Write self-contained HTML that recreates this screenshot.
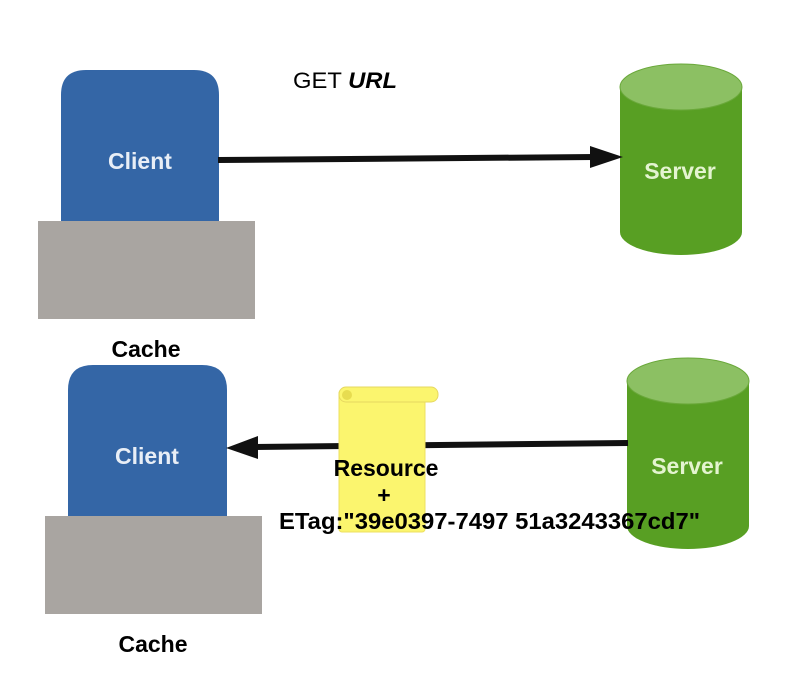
<!DOCTYPE html>
<html><head><style>body{margin:0;background:#fff}</style></head><body>
<svg width="794" height="668" xmlns="http://www.w3.org/2000/svg" font-family="Liberation Sans, sans-serif" font-weight="bold">
<rect width="794" height="668" fill="#fff"/>
<!-- top client -->
<path d="M61,95 Q61,70 86,70 L194,70 Q219,70 219,95 L219,222 L61,222 Z" fill="#3466a6"/>
<rect x="38" y="221" width="217" height="98" fill="#a9a5a1"/>
<text x="140" y="169" font-size="23" fill="#e8eef6" text-anchor="middle">Client</text>
<text x="146" y="357" font-size="23" fill="#000" text-anchor="middle">Cache</text>
<!-- bottom client -->
<path d="M68,390 Q68,365 93,365 L202,365 Q227,365 227,390 L227,517 L68,517 Z" fill="#3466a6"/>
<rect x="45" y="516" width="217" height="98" fill="#a9a5a1"/>
<text x="147" y="464" font-size="23" fill="#e8eef6" text-anchor="middle">Client</text>
<text x="153" y="652" font-size="23" fill="#000" text-anchor="middle">Cache</text>
<!-- servers -->
<g>
<path d="M620,87 L620,232 A61,23 0 0 0 742,232 L742,87 Z" fill="#589f23"/>
<ellipse cx="681" cy="87" rx="61" ry="23" fill="#8cc063" stroke="#6aa83a"/>
<text x="680" y="179" font-size="23" fill="#e4f4d0" text-anchor="middle">Server</text>
</g>
<g>
<path d="M627,381 L627,526 A61,23 0 0 0 749,526 L749,381 Z" fill="#589f23"/>
<ellipse cx="688" cy="381" rx="61" ry="23" fill="#8cc063" stroke="#6aa83a"/>
<text x="687" y="474" font-size="23" fill="#e4f4d0" text-anchor="middle">Server</text>
</g>
<!-- arrow 1 -->
<line x1="218" y1="160" x2="595" y2="157" stroke="#111" stroke-width="6"/>
<polygon points="590,146 623,157 590,168" fill="#111"/>
<text x="293" y="88" font-size="22" font-weight="normal" fill="#000" textLength="104" lengthAdjust="spacingAndGlyphs">GET <tspan font-weight="bold" font-style="italic">URL</tspan></text>
<!-- arrow 2 -->
<line x1="628" y1="443" x2="250" y2="447" stroke="#111" stroke-width="6"/>
<polygon points="258,436 226,448 258,459" fill="#111"/>
<!-- scroll -->
<rect x="339" y="390" width="86" height="142" rx="3" fill="#fbf56e" stroke="#ede060"/>
<rect x="339" y="387" width="99" height="15" rx="7" fill="#fbf56e" stroke="#e6d860"/>
<circle cx="347" cy="395" r="5" fill="#e7dc50"/>
<text x="386" y="476" font-size="23" fill="#000" text-anchor="middle">Resource</text>
<text x="384" y="503" font-size="23" fill="#000" text-anchor="middle">+</text>
<text x="279" y="529" font-size="23" fill="#000" textLength="421" lengthAdjust="spacingAndGlyphs">ETag:"39e0397-7497 51a3243367cd7"</text>
</svg>
</body></html>
